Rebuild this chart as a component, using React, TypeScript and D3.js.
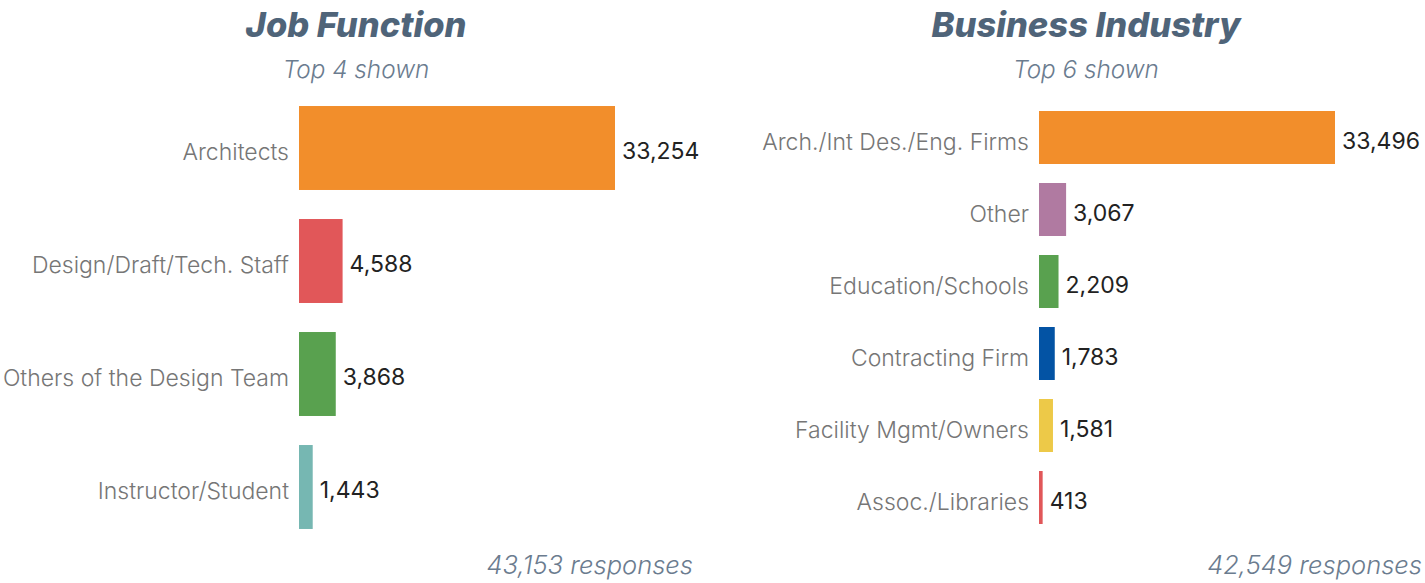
import React from "react";
import * as d3 from "d3";

const jobCategories = ["Architects", "Design/Draft/Tech. Staff", "Others of the Design Team", "Instructor/Student"];
const jobValues = [33254, 4588, 3868, 1443];
const jobColors = ["#f28e2b", "#e15759", "#59a14f", "#76b7b2"];
const jobTotal = "43,153 responses";

const indCategories = ["Arch./Int Des./Eng. Firms", "Other", "Education/Schools", "Contracting Firm", "Facility Mgmt/Owners", "Assoc./Libraries"];
const indValues = [33496, 3067, 2209, 1783, 1581, 413];
const indColors = ["#f28e2b", "#b07aa1", "#59a14f", "#0353a4", "#edc948", "#e15759"];
const indTotal = "42,549 responses";

const FONT = "Inter, 'Noto Sans', sans-serif";
const fmt = d3.format(",");

type PanelProps = {
  title: string;
  subtitle: string;
  cats: string[];
  vals: number[];
  colors: string[];
  total: string;
  titleX: number;
  x0: number;
  maxW: number;
  yRange: [number, number];
  padIn: number;
  totalX: number;
};

function Panel(p: PanelProps) {
  const x = d3.scaleLinear().domain([0, d3.max(p.vals) as number]).range([p.x0, p.x0 + p.maxW]);
  const y = d3
    .scaleBand<string>()
    .domain(p.cats)
    .range(p.yRange)
    .paddingInner(p.padIn)
    .paddingOuter(p.padIn / 2);
  return (
    <g>
      <text x={p.titleX} y={37} textAnchor="middle" fontFamily={FONT} fontWeight={800} fontStyle="italic" fontSize={34.5} fill="#4f6479">
        {p.title}
      </text>
      <text x={p.titleX} y={78} textAnchor="middle" fontFamily={FONT} fontWeight={300} fontStyle="italic" fontSize={24.3} fill="#6b7c8f">
        {p.subtitle}
      </text>
      {p.cats.map((c, i) => {
        const yy = y(c) as number;
        const cy = yy + y.bandwidth() / 2;
        return (
          <g key={c}>
            <rect x={x(0)} y={yy} width={x(p.vals[i]) - x(0)} height={y.bandwidth()} fill={p.colors[i]} />
            <text x={x(0) - 10} y={cy + 4} dy="0.35em" textAnchor="end" fontFamily={FONT} fontWeight={300} fontSize={23} fill="#767676">
              {c}
            </text>
            <text x={x(p.vals[i]) + 7} y={cy + 3} dy="0.35em" textAnchor="start" fontFamily={FONT} fontWeight={400} fontSize={23} fill="#222">
              {fmt(p.vals[i])}
            </text>
          </g>
        );
      })}
      <text x={p.totalX} y={574} textAnchor="end" fontFamily={FONT} fontWeight={300} fontStyle="italic" fontSize={25.5} fill="#6b7c8f">
        {p.total}
      </text>
    </g>
  );
}

export default function App() {
  return (
    <svg width={1425} height={583} style={{ position: "absolute", left: 0, top: 0 }}>
      <rect width={1425} height={583} fill="#fff" />
      <Panel
        title="Job Function"
        subtitle="Top 4 shown"
        cats={jobCategories}
        vals={jobValues}
        colors={jobColors}
        total={jobTotal}
        titleX={356}
        x0={299}
        maxW={316}
        yRange={[91.5, 543.5]}
        padIn={0.257}
        totalX={693}
      />
      <Panel
        title="Business Industry"
        subtitle="Top 6 shown"
        cats={indCategories}
        vals={indValues}
        colors={indColors}
        total={indTotal}
        titleX={1086}
        x0={1039}
        maxW={296}
        yRange={[101.5, 533.5]}
        padIn={0.264}
        totalX={1422}
      />
    </svg>
  );
}
